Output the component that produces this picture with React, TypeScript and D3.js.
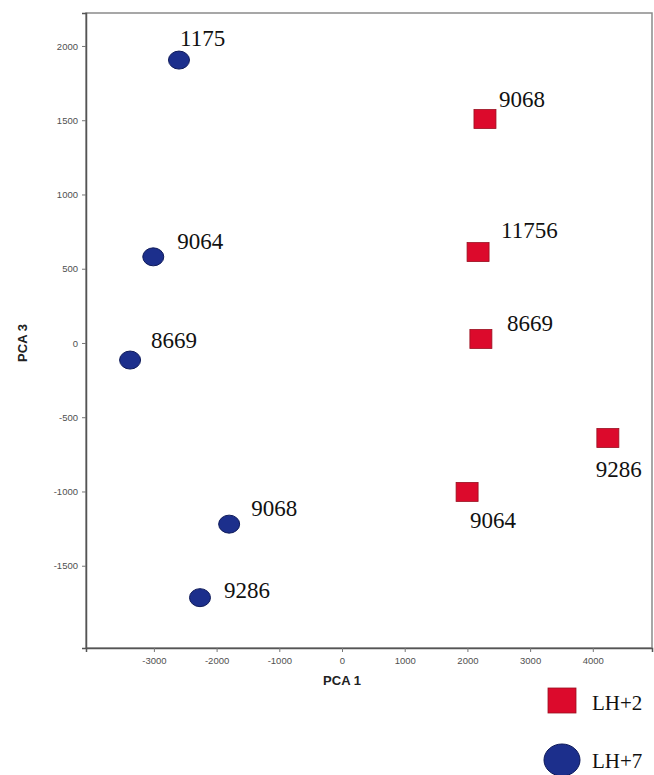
import { useEffect, useRef } from 'react'
import * as d3 from 'd3'

// LH+7 (blue circles) and LH+2 (red squares), PCA 1 vs PCA 3
const lh7Ids = ['1175', '9064', '8669', '9068', '9286']
const lh7Pca1 = [-2600, -3010, -3380, -1800, -2265]
const lh7Pca3 = [1905, 580, -115, -1220, -1715]

const lh2Ids = ['9068', '11756', '8669', '9286', '9064']
const lh2Pca1 = [2280, 2170, 2215, 4240, 1995]
const lh2Pca3 = [1508, 612, 27, -640, -1003]

const xTicks = [-3000, -2000, -1000, 0, 1000, 2000, 3000, 4000]
const yTicks = [2000, 1500, 1000, 500, 0, -500, -1000, -1500]

// label placement relative to the marker (layout only)
const lh7LabelOffsets = [[1, -14], [24, -8], [21, -12], [22, -8], [24, 0]]
const lh2LabelOffsets = [[14, -12], [23, -14], [26, -8], [-12, 39], [3, 36]]

const W = 654
const H = 775
const BLUE = '#1c2f8c'
const RED = '#dc0a2c'
const SERIF = '"Liberation Serif", "DejaVu Serif", serif'
const SANS = '"Liberation Sans", Arial, sans-serif'

export default function App() {
  const svgRef = useRef<SVGSVGElement>(null)

  useEffect(() => {
    if (!svgRef.current) return
    const svg = d3.select(svgRef.current)
    svg.selectAll('*').remove()

    const left = 86, right = 652, top = 13, bottom = 648
    const x = d3.scaleLinear().domain([-4083, 4944]).range([left, right])
    const y = d3.scaleLinear().domain([2222, -2054]).range([top, bottom])

    svg.append('rect').attr('width', W).attr('height', H).attr('fill', '#fff')

    // frame
    svg.append('rect')
      .attr('x', left).attr('y', top)
      .attr('width', right - left).attr('height', bottom - top)
      .attr('fill', 'none').attr('stroke', '#8a8a8a').attr('stroke-width', 1.5)

    // axes (plain hyphen for negatives, like the original)
    const fmt = (d: d3.NumberValue) => String(d)
    const xAxis = svg.append('g')
      .attr('transform', `translate(0,${bottom})`)
      .call(d3.axisBottom(x).tickValues(xTicks).tickSize(4).tickPadding(5).tickFormat(fmt))
    const yAxis = svg.append('g')
      .attr('transform', `translate(${left},0)`)
      .call(d3.axisLeft(y).tickValues(yTicks).tickSize(4).tickPadding(4).tickFormat(fmt))

    for (const ax of [xAxis, yAxis]) {
      ax.select('.domain').attr('stroke', '#555').attr('stroke-width', 1.5)
      ax.selectAll('line').attr('stroke', '#777')
      ax.selectAll('text')
        .attr('fill', '#505050')
        .attr('font-family', SANS)
        .attr('font-size', '9.5px')
    }

    // axis titles
    svg.append('text')
      .attr('x', x(0)).attr('y', 685)
      .attr('text-anchor', 'middle')
      .attr('font-family', SANS).attr('font-size', '13px').attr('font-weight', 600).attr('fill', '#222')
      .text('PCA 1')
    svg.append('text')
      .attr('transform', `translate(27,${y(0)}) rotate(-90)`)
      .attr('text-anchor', 'middle')
      .attr('font-family', SANS).attr('font-size', '13px').attr('font-weight', 600).attr('fill', '#222')
      .text('PCA 3')

    // LH+7 circles
    lh7Ids.forEach((id, i) => {
      const cx = x(lh7Pca1[i]), cy = y(lh7Pca3[i])
      svg.append('ellipse')
        .attr('cx', cx).attr('cy', cy).attr('rx', 10.5).attr('ry', 9)
        .attr('fill', BLUE).attr('stroke', '#0e1a5a').attr('stroke-width', 1)
      svg.append('text')
        .attr('x', cx + lh7LabelOffsets[i][0]).attr('y', cy + lh7LabelOffsets[i][1])
        .attr('font-family', SERIF).attr('font-size', '23px').attr('fill', '#111')
        .text(id)
    })

    // LH+2 squares
    lh2Ids.forEach((id, i) => {
      const cx = x(lh2Pca1[i]), cy = y(lh2Pca3[i])
      svg.append('rect')
        .attr('x', cx - 11).attr('y', cy - 9.5).attr('width', 22).attr('height', 19)
        .attr('fill', RED).attr('stroke', '#9a1020').attr('stroke-width', 0.8)
      svg.append('text')
        .attr('x', cx + lh2LabelOffsets[i][0]).attr('y', cy + lh2LabelOffsets[i][1])
        .attr('font-family', SERIF).attr('font-size', '23px').attr('fill', '#111')
        .text(id)
    })

    // legend
    const lg = svg.append('g')
    lg.append('rect')
      .attr('x', 548).attr('y', 688).attr('width', 28).attr('height', 25)
      .attr('fill', RED).attr('stroke', '#9a1020').attr('stroke-width', 0.8)
    lg.append('text')
      .attr('x', 592).attr('y', 710)
      .attr('font-family', SERIF).attr('font-size', '21px').attr('fill', '#111')
      .text('LH+2')
    lg.append('ellipse')
      .attr('cx', 562).attr('cy', 760).attr('rx', 18).attr('ry', 16)
      .attr('fill', BLUE).attr('stroke', '#0e1a5a').attr('stroke-width', 1)
    lg.append('text')
      .attr('x', 592).attr('y', 768)
      .attr('font-family', SERIF).attr('font-size', '21px').attr('fill', '#111')
      .text('LH+7')
  }, [])

  return (
    <svg
      ref={svgRef}
      width={W}
      height={H}
      style={{ position: 'absolute', top: 0, left: 0, display: 'block' }}
    />
  )
}
